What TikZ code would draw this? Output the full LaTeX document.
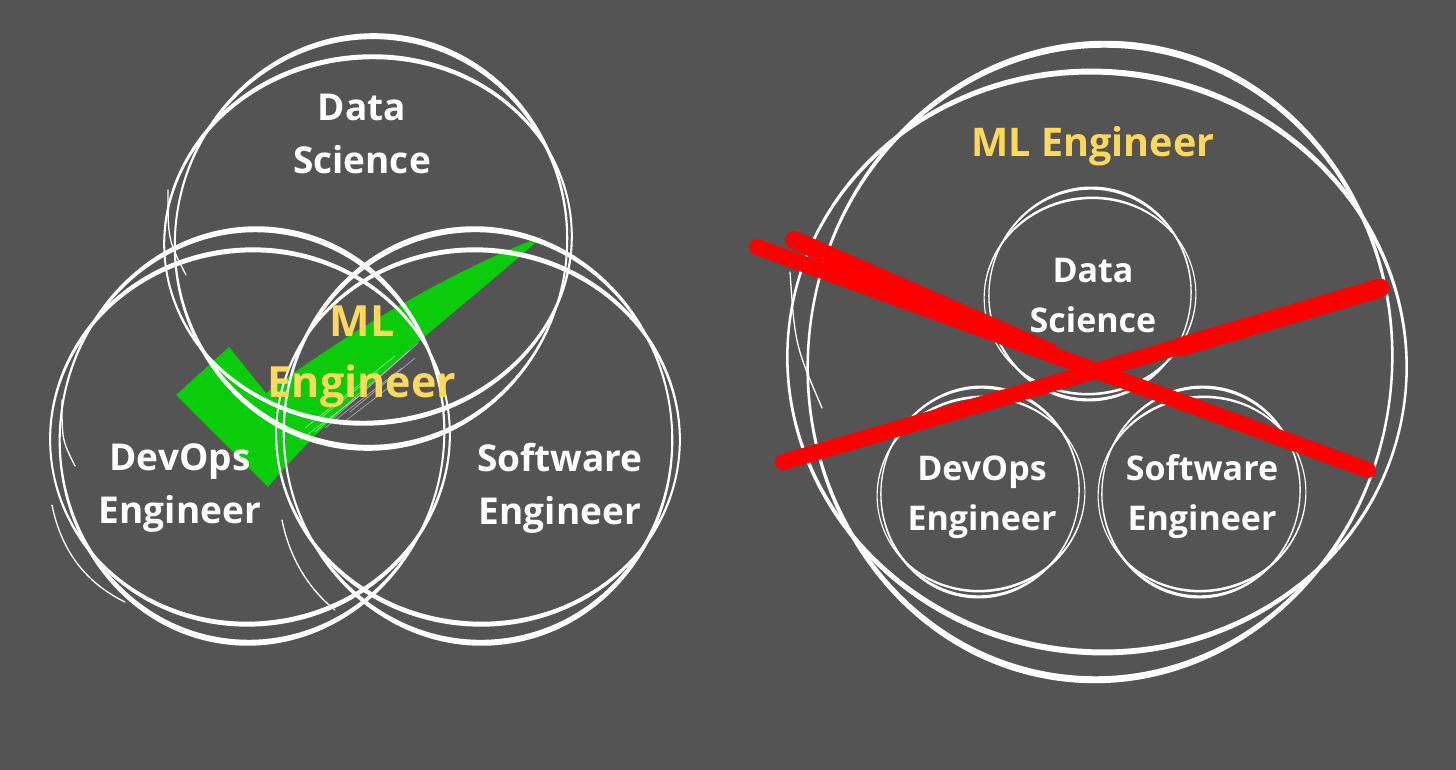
\documentclass[tikz,border=0pt]{standalone}
\usepackage{fontspec}
\setmainfont{Open Sans}
\definecolor{bg}{RGB}{84,84,84}
\definecolor{mlyellow}{RGB}{252,216,92}
\definecolor{chk}{RGB}{10,204,10}
\definecolor{xred}{RGB}{255,0,0}
\newcommand{\brush}[7]{%
  \pgfmathsetmacro\bra{#3+#5/2}\pgfmathsetmacro\brb{#4+#6/2}%
  \pgfmathsetmacro\brc{#3-#5/2}\pgfmathsetmacro\brd{#4-#6/2}%
  \fill[white,even odd rule,rotate around={#7:(#1,#2)}]
    (#1,#2) ellipse [x radius=\bra, y radius=\brb]
    (#1,#2) ellipse [x radius=\brc, y radius=\brd];}
\tikzset{
  lbl/.style={text=white,font=\bfseries\fontsize{37}{53}\selectfont,align=center,inner sep=0pt},
  lbls/.style={text=white,font=\bfseries\fontsize{34}{50}\selectfont,align=center,inner sep=0pt},
  mllbl/.style={text=mlyellow,font=\bfseries\fontsize{43}{61}\selectfont,align=center,inner sep=0pt},
  thinline/.style={white,line width=1.3pt,line cap=round},
  redstroke/.style={xred,line width=16pt,line cap=round},
}
\begin{document}
\begin{tikzpicture}[x=1pt,y=-1pt]
\useasboundingbox (0,0) rectangle (1456,770);
\fill[bg] (0,0) rectangle (1456,770);

% ---------- left Venn ----------
% green check (behind the circles)
\fill[chk] (176,395) -- (229,347) -- (266,393)
  .. controls (330,345) and (440,275) .. (543,236)
  .. controls (460,310) and (340,400) .. (268,487) -- cycle;
\foreach \a/\b/\c/\d in {305/428/395/356, 315/432/410/350, 325/428/402/368,
  300/440/362/394, 332/420/418/343, 340/425/392/385, 318/420/378/372, 350/412/415/358}
  \draw[white,opacity=0.45,line width=0.8pt] (\a,\b) -- (\c,\d);

% Data Science circle
\brush{371}{242}{196}{206}{2}{6}{-8}
\brush{368}{240}{204}{183}{2}{5}{6}
\draw[thinline] (168,190) .. controls (168,240) .. (186,275);
% DevOps circle
\brush{252}{436}{192}{207}{2}{6}{-8}
\brush{250}{437}{200}{187}{2}{5}{6}
\draw[thinline] (62,400) .. controls (62,440) .. (75,466);
\draw[thinline] (52,505) .. controls (62,555) and (90,585) .. (125,602);
% Software circle
\brush{478}{436}{194}{207}{2}{6}{8}
\brush{478}{437}{202}{187}{2}{5}{-6}
\draw[thinline] (282,520) .. controls (290,560) and (310,590) .. (335,610);

% labels left
\node[lbl] (ds1) at (362,134) {Data\\Science};
\node[mllbl] (ml1) at (362,357) {ML\\Engineer};
\node[lbl] (do1) at (180,488) {DevOps\\Engineer};
\node[lbl] (se1) at (560,488) {Software\\Engineer};

% ---------- right diagram ----------
\brush{1100}{362}{292}{318}{2.5}{7}{-6}
\brush{1097}{362}{310}{290}{2.5}{6}{-8}
\draw[thinline] (790,272) .. controls (795,345) .. (822,408);
% small circles
\brush{1090}{294}{101}{106}{1.3}{3.2}{-8}
\brush{1090}{296}{106}{98}{1.1}{2.6}{8}
\brush{980}{492}{99}{105}{1.3}{3.2}{-8}
\brush{981}{494}{104}{97}{1.1}{2.6}{8}
\brush{1201}{492}{99}{105}{1.3}{3.2}{-8}
\brush{1202}{494}{104}{97}{1.1}{2.6}{8}

\node[mllbl,font=\bfseries\fontsize{39.5}{44}\selectfont] (ml2) at (1093,146) {ML Engineer};
\node[lbls] (ds2) at (1093,296) {Data\\Science};
\node[lbls] (do2) at (982,497) {DevOps\\Engineer};
\node[lbls] (se2) at (1202,497) {Software\\Engineer};

% red X
\draw[redstroke] (757,247) -- (1368,470);
\draw[redstroke,line width=18pt] (794,240) -- (1050,352);
\draw[redstroke] (783,462) -- (1380,288);
\draw[redstroke,line width=19pt] (1180,347) -- (1380,288);
\end{tikzpicture}
\end{document}
